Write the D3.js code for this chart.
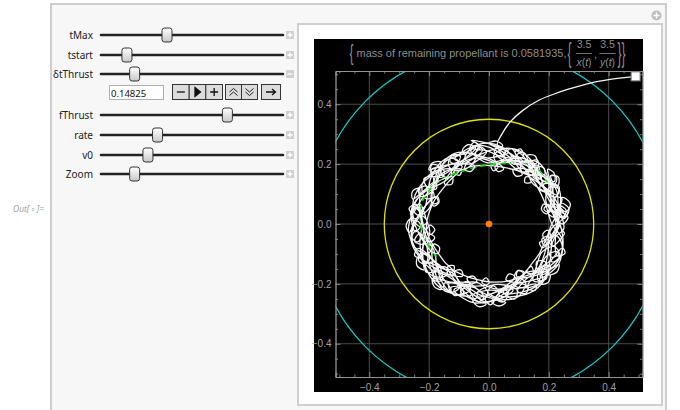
<!DOCTYPE html>
<html>
  <head>
    <meta charset="utf-8">
    <title>Propellant orbit</title>
    <script src="https://d3js.org/d3.v7.min.js"></script>
    <style>
      body { margin: 0; background: #fff; }
    </style>
  </head>
  <body>
    <div id="chart"></div>
    <script>
      // control panel values
      const controlNames = ["tMax", "tstart", "δtThrust", "fThrust", "rate", "v0", "Zoom"];
      const controlValues = [0.36, 0.131, 0.175, 0.705, 0.306, 0.251, 0.175];
      const controlIcons = ["+", "+", "−", "+", "+", "+", "+"];
      const thrustField = "0.14825";

      // plot ticks
      const majorTicks = [-0.4, -0.2, 0.0, 0.2, 0.4];
      const minorTicks = [-0.5, -0.45, -0.35, -0.3, -0.25, -0.15, -0.1, -0.05, 0.05, 0.1, 0.15, 0.25, 0.3, 0.35, 0.45, 0.5];

      // circles: [radius, colour]
      const circleRadii = [0.35, 0.582];
      const circleColors = ["#e0e000", "#14c8c8"];

      // trajectory laps, [angle in degrees, radius]
      const lapA = [[0,.23],[10,.245],[8,.265],[4,.25],[15,.225],[27,.24],[38,.26],[35,.275],[31,.255],[45,.225],[58,.235],[70,.255],[67,.272],[63,.252],[78,.228],[92,.245],[104,.262],[100,.278],[97,.258],[112,.23],[126,.24],[138,.26],[134,.275],[131,.255],[146,.225],[160,.24],[172,.258],[169,.272],[165,.252],[180,.225],[194,.238],[206,.256],[203,.27],[199,.25],[214,.222],[228,.236],[240,.254],[237,.268],[233,.248],[248,.222],[262,.238],[274,.255],[271,.27],[267,.25],[282,.225],[296,.238],[308,.255],[305,.27],[301,.25],[316,.225],[330,.24],[342,.258],[339,.272],[335,.252],[350,.226],[360,.232]];
      const lapB = [[5,.22],[18,.21],[15,.19],[11,.205],[25,.225],[40,.215],[52,.2],[49,.183],[45,.198],[60,.222],[76,.212],[88,.195],[85,.178],[81,.195],[96,.22],[110,.225],[124,.21],[121,.19],[117,.205],[132,.23],[148,.22],[160,.2],[157,.185],[153,.2],[168,.225],[184,.22],[197,.205],[194,.187],[190,.2],[205,.225],[220,.215],[233,.2],[230,.182],[226,.198],[242,.222],[258,.212],[270,.198],[267,.18],[263,.196],[278,.22],[292,.215],[305,.2],[302,.183],[298,.198],[314,.222],[330,.212],[343,.198],[340,.18],[336,.196],[352,.22]];
      const lapC = [[8,.24],[20,.26],[14,.28],[9,.26],[22,.235],[36,.25],[50,.235],[46,.215],[41,.232],[56,.255],[70,.265],[82,.25],[78,.235],[75,.25],[90,.27],[105,.262],[118,.245],[113,.228],[109,.245],[124,.262],[140,.25],[150,.23],[146,.212],[142,.228],[158,.25],[172,.262],[186,.248],[181,.228],[177,.246],[192,.266],[208,.255],[222,.238],[217,.218],[213,.236],[228,.258],[243,.262],[256,.245],[251,.226],[247,.244],[263,.262],[278,.252],[290,.235],[286,.218],[282,.235],[298,.255],[312,.262],[326,.248],[321,.23],[317,.246],[333,.262],[348,.25]];
      const lapD = [[0,.21],[20,.2],[40,.205],[55,.215],[52,.235],[48,.218],[65,.2],[85,.195],[105,.2],[122,.21],[119,.23],[115,.212],[135,.195],[160,.2],[185,.21],[200,.2],[220,.195],[235,.2],[232,.22],[228,.205],[250,.19],[275,.195],[300,.205],[315,.2],[312,.22],[308,.205],[330,.195],[350,.2]];
      const lapG = [[0,.21],[9,.24],[5,.265],[0,.245],[10,.215],[22,.205],[31,.235],[27,.26],[22,.24],[33,.21],[45,.2],[54,.23],[50,.255],[45,.235],[57,.205],[69,.21],[78,.24],[73,.262],[68,.24],[80,.215],[92,.205],[101,.235],[97,.26],[92,.24],[104,.21],[116,.2],[125,.23],[121,.255],[116,.235],[128,.205],[140,.21],[149,.24],[145,.265],[140,.245],[152,.215],[164,.205],[173,.235],[169,.26],[164,.24],[176,.21],[188,.2],[197,.23],[193,.255],[188,.235],[200,.205],[212,.21],[221,.24],[217,.265],[212,.245],[224,.215],[236,.205],[245,.235],[241,.26],[236,.24],[248,.21],[260,.2],[269,.23],[265,.255],[260,.235],[272,.205],[284,.21],[293,.24],[289,.265],[284,.245],[296,.215],[308,.205],[317,.235],[313,.26],[308,.24],[320,.21],[332,.2],[341,.23],[337,.255],[332,.235],[344,.205],[356,.21]];
      const lapH = [[6,.255],[15,.225],[11,.2],[6,.22],[17,.25],[29,.26],[38,.23],[34,.205],[29,.225],[41,.255],[53,.262],[62,.232],[58,.207],[53,.227],[65,.257],[77,.26],[86,.23],[82,.205],[77,.225],[89,.255],[101,.265],[110,.235],[106,.21],[101,.23],[113,.26],[125,.258],[134,.228],[130,.203],[125,.223],[137,.253],[149,.26],[158,.23],[154,.205],[149,.225],[161,.255],[173,.262],[182,.232],[178,.207],[173,.227],[185,.257],[197,.26],[206,.23],[202,.205],[197,.225],[209,.255],[221,.258],[230,.228],[226,.203],[221,.223],[233,.253],[245,.26],[254,.23],[250,.205],[245,.225],[257,.255],[269,.262],[278,.232],[274,.207],[269,.227],[281,.257],[293,.26],[302,.23],[298,.205],[293,.225],[305,.255],[317,.258],[326,.228],[322,.203],[317,.223],[329,.253],[341,.26],[350,.23],[346,.205],[341,.225],[353,.255]];
      const lapI = [[3,.23],[16,.25],[11,.272],[5,.255],[14,.225],[24,.215],[36,.225],[32,.25],[27,.235],[40,.215],[55,.24],[61,.262],[56,.275],[52,.258],[63,.235],[75,.22],[84,.19],[80,.178],[75,.19],[88,.215],[103,.24],[110,.26],[105,.274],[100,.258],[112,.23],[127,.215],[138,.2],[133,.182],[128,.2],[142,.225],[156,.25],[162,.268],[157,.278],[153,.262],[165,.24],[178,.225],[190,.2],[186,.182],[181,.198],[194,.225],[208,.25],[215,.266],[210,.278],[205,.262],[218,.235],[232,.215],[243,.195],[239,.18],[234,.195],[247,.225],[262,.25],[268,.268],[263,.278],[258,.26],[271,.235],[285,.215],[296,.195],[292,.18],[287,.195],[300,.225],[314,.25],[320,.266],[315,.278],[310,.26],[323,.235],[337,.215],[348,.2],[344,.184],[339,.198],[352,.225]];
      const lapJ = [[0,.235],[14,.215],[20,.194],[15,.182],[10,.197],[23,.225],[37,.252],[43,.268],[38,.276],[33,.26],[46,.235],[60,.215],[66,.197],[61,.184],[56,.198],[70,.228],[84,.255],[90,.27],[85,.278],[80,.265],[93,.24],[108,.22],[114,.2],[109,.186],[104,.2],[118,.228],[132,.255],[138,.27],[133,.278],[128,.262],[141,.235],[156,.212],[162,.195],[157,.182],[152,.196],[166,.225],[180,.252],[186,.268],[181,.277],[176,.262],[189,.235],[204,.215],[210,.197],[205,.183],[200,.197],[214,.228],[228,.255],[234,.27],[229,.278],[224,.262],[237,.232],[252,.212],[258,.195],[253,.182],[248,.196],[262,.225],[276,.252],[282,.268],[277,.276],[272,.26],[285,.235],[300,.215],[306,.197],[301,.183],[296,.197],[310,.228],[324,.255],[330,.27],[325,.278],[320,.262],[333,.232],[348,.212],[354,.197],[349,.183],[344,.197],[358,.225]];
      const lapK = [[7,.22],[14,.245],[10,.262],[5,.245],[16,.222],[25,.225],[32,.25],[28,.265],[23,.248],[34,.222],[43,.22],[50,.245],[46,.262],[41,.245],[52,.222],[61,.225],[68,.25],[64,.265],[59,.248],[70,.222],[79,.22],[86,.245],[82,.262],[77,.245],[88,.222],[97,.225],[104,.25],[100,.265],[95,.248],[106,.222],[115,.22],[122,.245],[118,.262],[113,.245],[124,.222],[133,.225],[140,.25],[136,.265],[131,.248],[142,.222],[151,.22],[158,.245],[154,.262],[149,.245],[160,.222],[169,.225],[176,.25],[172,.265],[167,.248],[178,.222],[187,.22],[194,.245],[190,.262],[185,.245],[196,.222],[205,.225],[212,.25],[208,.265],[203,.248],[214,.222],[223,.22],[230,.245],[226,.262],[221,.245],[232,.222],[241,.225],[248,.25],[244,.265],[239,.248],[250,.222],[259,.22],[266,.245],[262,.262],[257,.245],[268,.222],[277,.225],[284,.25],[280,.265],[275,.248],[286,.222],[295,.22],[302,.245],[298,.262],[293,.245],[304,.222],[313,.225],[320,.25],[316,.265],[311,.248],[322,.222],[331,.22],[338,.245],[334,.262],[329,.245],[340,.222],[349,.225],[356,.25]];
      const lapE = [[5,.245],[17,.23],[13,.212],[9,.228],[24,.25],[38,.262],[34,.28],[29,.262],[44,.24],[58,.25],[72,.235],[68,.216],[63,.232],[80,.255],[95,.275],[102,.285],[98,.268],[110,.25],[124,.255],[138,.238],[134,.22],[130,.236],[146,.258],[162,.265],[176,.25],[172,.232],[168,.25],[184,.27],[198,.26],[212,.245],[208,.225],[204,.242],[220,.262],[236,.268],[250,.25],[246,.232],[242,.25],[258,.268],[272,.258],[286,.242],[282,.222],[278,.24],[294,.262],[308,.268],[322,.252],[318,.233],[314,.25],[330,.268],[346,.255],[358,.24]];
      const lapF = [[10,.225],[22,.24],[19,.258],[15,.24],[30,.22],[44,.235],[56,.25],[53,.268],[49,.25],[64,.23],[76,.25],[84,.266]];
      // escape leg, [x, y]
      const escapeX = [0.04, 0.07, 0.11, 0.168, 0.22, 0.268, 0.335, 0.40, 0.49];
      const escapeY = [0.295, 0.34, 0.377, 0.414, 0.435, 0.451, 0.47, 0.482, 0.493];
      // thrust arc (green), [angle, radius]
      const thrustArc = [[35,.24],[50,.245],[65,.225],[80,.205],[100,.195],[120,.2],[140,.22],[160,.235],[180,.228],[200,.215],[215,.205]];

      const W = 680, H = 410;
      const svg = d3.select("#chart").append("svg")
        .attr("width", W).attr("height", H)
        .style("font-family", "'Liberation Sans', Arial, sans-serif");

      // outer notebook frame
      svg.append("rect").attr("x", 51).attr("y", 4).attr("width", 615).attr("height", 430)
        .attr("fill", "#f7f7f7").attr("stroke", "#cdcdcd").attr("stroke-width", 2);
      svg.append("text").attr("x", 13).attr("y", 212)
        .attr("font-size", 8.5).attr("font-style", "italic").attr("fill", "#9a9a9a")
        .style("font-family", "'Open Sans', sans-serif")
        .text("Out[ ▫ ]=");
      // plus circle top right
      const pc = svg.append("g").attr("transform", "translate(656.5,15.5)");
      pc.append("circle").attr("r", 5).attr("fill", "#bdbdbd");
      pc.append("path").attr("d", "M-3,0H3M0,-3V3").attr("stroke", "#fff").attr("stroke-width", 1.5);

      // controls
      const sx = d3.scaleLinear().domain([0, 1]).range([104, 279]);
      const rowY = [35, 55, 74, 115, 135, 155, 174];
      const rows = svg.append("g").selectAll("g").data(controlNames).join("g")
        .attr("transform", (d, i) => `translate(0,${rowY[i]})`);
      rows.append("text").attr("x", 93).attr("y", 3.5).attr("text-anchor", "end")
        .attr("font-size", 10).attr("fill", "#222")
        .style("font-family", "'Noto Sans', sans-serif").text(d => d);
      rows.append("line").attr("x1", 101).attr("x2", 283).attr("y1", 0).attr("y2", 0)
        .attr("stroke", "#222").attr("stroke-width", 2.6).attr("stroke-linecap", "round");

      const grad = svg.append("defs").append("linearGradient").attr("id", "thumb")
        .attr("x1", 0).attr("x2", 0).attr("y1", 0).attr("y2", 1);
      grad.append("stop").attr("offset", "0%").attr("stop-color", "#ffffff");
      grad.append("stop").attr("offset", "100%").attr("stop-color", "#c8c8c8");
      rows.append("rect")
        .attr("x", (d, i) => sx(controlValues[i]) - 5).attr("y", -7)
        .attr("width", 10).attr("height", 14).attr("rx", 2.5)
        .attr("fill", "url(#thumb)").attr("stroke", "#333").attr("stroke-width", 1);
      rows.append("rect").attr("x", 286).attr("y", -4).attr("width", 8).attr("height", 8)
        .attr("fill", "#d0d0d0");
      rows.append("path")
        .attr("d", (d, i) => controlIcons[i] === "+" ? "M287.5,0H292.5M290,-2.5V2.5" : "M287.5,0H292.5")
        .attr("stroke", "#fff").attr("stroke-width", 1.3);

      // animator row
      const ar = svg.append("g");
      ar.append("rect").attr("x", 109.5).attr("y", 85.5).attr("width", 54).attr("height", 14)
        .attr("fill", "#fff").attr("stroke", "#b0b0b0");
      ar.append("text").attr("x", 111).attr("y", 96.5).attr("font-size", 9.5).attr("fill", "#111")
        .style("font-family", "'Noto Sans', sans-serif").text(thrustField);
      const btnX = [172, 188.7, 205.3, 225, 241, 261];
      const btnW = [16.7, 16.6, 16.7, 16, 16, 19];
      const btnIcon = [
        "M-4,0H4",
        "M-2.5,-4.5L3,0L-2.5,4.5Z",
        "M-4,0H4M0,-4V4",
        "M-4,0L0,-3.5L4,0M-4,3.5L0,0L4,3.5",
        "M-4,-3.5L0,0L4,-3.5M-4,0L0,3.5L4,0",
        "M-5,0H4M1,-3L4.5,0L1,3"
      ];
      btnX.forEach((x, i) => {
        ar.append("rect").attr("x", x + 0.5).attr("y", 84.5).attr("width", btnW[i]).attr("height", 15)
          .attr("fill", "#dcdcdc").attr("stroke", "#333");
        ar.append("path").attr("transform", `translate(${x + 0.5 + btnW[i] / 2},92)`)
          .attr("d", btnIcon[i])
          .attr("fill", i === 1 ? "#111" : "none").attr("stroke", "#111")
          .attr("stroke-width", i === 3 || i === 4 ? 0.9 : 1.3);
      });

      // graphics pane
      svg.append("rect").attr("x", 298).attr("y", 24).attr("width", 364).attr("height", 381)
        .attr("fill", "#fff").attr("stroke", "#cfcfcf").attr("stroke-width", 2);
      svg.append("rect").attr("x", 314).attr("y", 39).attr("width", 329).attr("height", 353)
        .attr("fill", "#000");

      const x = d3.scaleLinear().domain([-0.513, 0.513]).range([335.5, 642.5]);
      const y = d3.scaleLinear().domain([-0.511, 0.511]).range([377, 71]);
      const x0 = x.range()[0], x1 = x.range()[1], y0 = y.range()[1], y1 = y.range()[0];

      svg.append("defs").append("clipPath").attr("id", "plotclip")
        .append("rect").attr("x", x0).attr("y", y0).attr("width", x1 - x0).attr("height", y1 - y0);

      const plot = svg.append("g").attr("clip-path", "url(#plotclip)");

      // grid lines
      plot.append("g").selectAll("line").data(majorTicks).join("line")
        .attr("x1", d => x(d)).attr("x2", d => x(d)).attr("y1", y0).attr("y2", y1)
        .attr("stroke", "#4d4d4d").attr("stroke-width", 1);
      plot.append("g").selectAll("line").data(majorTicks).join("line")
        .attr("y1", d => y(d)).attr("y2", d => y(d)).attr("x1", x0).attr("x2", x1)
        .attr("stroke", "#4d4d4d").attr("stroke-width", 1);

      // frame with inward ticks
      const axisColor = "#9a9a9a";
      const fmt = d => d === 0 ? "0.0" : d3.format(".1f")(d).replace("-", "−");
      const axB = d3.axisBottom(x).tickValues(majorTicks).tickSize(-5).tickFormat(fmt).tickPadding(7);
      const axL = d3.axisLeft(y).tickValues(majorTicks).tickSize(-5).tickFormat(fmt).tickPadding(4);
      const axT = d3.axisTop(x).tickValues(majorTicks).tickSize(-5).tickFormat("");
      const axR = d3.axisRight(y).tickValues(majorTicks).tickSize(-5).tickFormat("");
      const mB = d3.axisBottom(x).tickValues(minorTicks).tickSize(-2.5).tickFormat("");
      const mL = d3.axisLeft(y).tickValues(minorTicks).tickSize(-2.5).tickFormat("");
      const mT = d3.axisTop(x).tickValues(minorTicks).tickSize(-2.5).tickFormat("");
      const mR = d3.axisRight(y).tickValues(minorTicks).tickSize(-2.5).tickFormat("");
      const axes = [[axB, `0,${y1}`], [axL, `${x0},0`], [axT, `0,${y0}`], [axR, `${x1},0`],
                    [mB, `0,${y1}`], [mL, `${x0},0`], [mT, `0,${y0}`], [mR, `${x1},0`]];
      axes.forEach(([ax, t]) => {
        const g = svg.append("g").attr("transform", `translate(${t})`).call(ax);
        g.selectAll("path,line").attr("stroke", axisColor).attr("stroke-width", 0.8);
        g.selectAll("text").attr("fill", "#a0a0a0").attr("font-size", 10)
          .style("font-family", "'Liberation Sans', Arial, sans-serif");
      });

      // reference circles
      plot.selectAll("circle.ref").data(circleRadii).join("circle").attr("class", "ref")
        .attr("cx", x(0)).attr("cy", y(0))
        .attr("r", d => x(d) - x(0))
        .attr("fill", "none").attr("stroke", (d, i) => circleColors[i]).attr("stroke-width", 1.3);

      // trajectory
      const polar = p => [p[1] * Math.cos(p[0] * Math.PI / 180), p[1] * Math.sin(p[0] * Math.PI / 180)];
      const line = d3.line().x(d => x(d[0])).y(d => y(d[1])).curve(d3.curveCatmullRom.alpha(0.5));
      const early = [].concat(lapA, lapB, lapC, lapD, lapG, lapH).map(polar);
      const late = [].concat(lapH.slice(-1), lapI, lapJ, lapK, lapE, lapF).map(polar)
        .concat(escapeX.map((v, i) => [v, escapeY[i]]));
      plot.append("path").datum(early).attr("d", line)
        .attr("fill", "none").attr("stroke", "#f4f4f4").attr("stroke-width", 1.3);
      plot.append("path").datum(thrustArc.map(polar)).attr("d", line)
        .attr("fill", "none").attr("stroke", "#00e600").attr("stroke-width", 1.7)
        .attr("stroke-dasharray", "6,4");
      plot.append("path").datum(late).attr("d", line)
        .attr("fill", "none").attr("stroke", "#f4f4f4").attr("stroke-width", 1.3);

      // central body and craft
      plot.append("circle").attr("cx", x(0)).attr("cy", y(0)).attr("r", 3.3).attr("fill", "#ff7f0e");
      const last = late[late.length - 1];
      svg.append("rect").attr("x", x(last[0]) - 4.5).attr("y", y(last[1]) - 4.5)
        .attr("width", 9).attr("height", 9).attr("fill", "#fff").attr("stroke", "#777").attr("stroke-width", 1);

      // title
      const title = svg.append("g").attr("fill", "#8e8e8e").attr("font-size", 11);
      title.append("text").attr("transform", "translate(349.5,60) scale(0.75,1.35)")
        .attr("font-size", 16).attr("font-weight", 300).text("{");
      title.append("text").attr("x", 356.5).attr("y", 57)
        .attr("textLength", 210).attr("lengthAdjust", "spacingAndGlyphs")
        .text("mass of remaining propellant is 0.0581935,");
      title.append("text").attr("transform", "translate(567.5,62) scale(0.75,1.75)")
        .attr("font-size", 16).text("{");
      const fracX = [584, 607.5];
      const fracDen = ["x", "y"];
      fracX.forEach((cx, i) => {
        title.append("text").attr("x", cx).attr("y", 48).attr("text-anchor", "middle").attr("font-size", 10.5).text("3.5");
        title.append("line").attr("x1", cx - 8).attr("x2", cx + 8).attr("y1", 53.5).attr("y2", 53.5)
          .attr("stroke", "#8e8e8e").attr("stroke-width", 0.8);
        const den = title.append("text").attr("x", cx).attr("y", 66).attr("text-anchor", "middle").attr("font-size", 10.5);
        den.append("tspan").attr("font-style", "italic").text(fracDen[i]);
        den.append("tspan").text("(");
        den.append("tspan").attr("font-style", "italic").text("t");
        den.append("tspan").text(")");
      });
      title.append("text").attr("x", 594).attr("y", 58).text(",");
      title.append("text").attr("transform", "translate(617.5,62) scale(0.75,1.75)")
        .attr("font-size", 16).text("}}");
    </script>
  </body>
</html>
